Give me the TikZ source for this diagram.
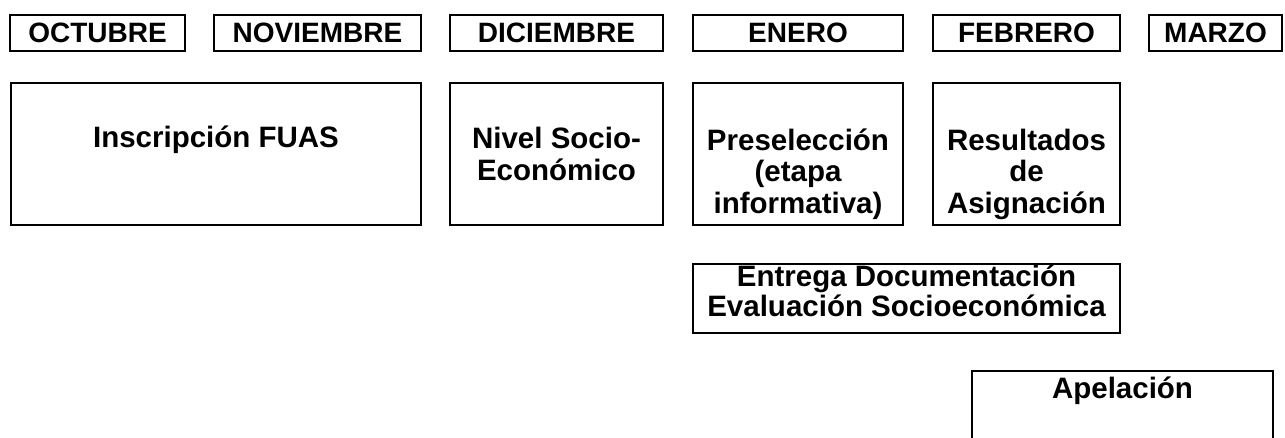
\documentclass[tikz,border=0pt]{standalone}
\usepackage{fontspec}
\setmainfont{Liberation Sans}
\begin{document}
\begin{tikzpicture}[x=0.5pt, y=-0.5pt,
    mes/.style ={draw, line width=1pt, anchor=north west, inner sep=0pt,
                 text height=13.75pt, text depth=4.25pt,
                 font=\bfseries\fontsize{14}{14}\selectfont},
    etapa/.style ={draw, line width=1pt, anchor=north west, inner sep=0pt, align=center,
                 font=\bfseries\fontsize{14.75}{13.75}\selectfont},
    ancha/.style ={font=\bfseries\fontsize{14.75}{16}\selectfont}]
   \useasboundingbox (0,0) rectangle (1285,438);
   % meses
   \node[mes, minimum width=87.5pt]  (oct) at (9,14.5)    {OCTUBRE};
   \node[mes, minimum width=103.5pt] (nov) at (213,14.5)  {NOVIEMBRE};
   \node[mes, minimum width=106.5pt] (dic) at (449,14.5)  {DICIEMBRE};
   \node[mes, minimum width=105pt]   (ene) at (692,14.5)  {ENERO};
   \node[mes, minimum width=93.5pt]  (feb) at (932,14.5)  {FEBRERO};
   \node[mes, minimum width=66.5pt]  (mar) at (1148,14.5) {MARZO};

   % etapas
   \node[etapa, minimum width=205pt, text height=32.5pt, text depth=38.5pt]
        (ins) at (10,82) {Inscripción FUAS};
   \node[etapa, ancha, minimum width=106.5pt, text height=49pt, text depth=22pt]
        (niv) at (449,82) {Nivel Socio-\\Económico};
   \node[etapa, ancha, minimum width=105pt, text height=65.5pt, text depth=5.5pt]
        (pre) at (692,82) {Preselección\\(etapa\\informativa)};
   \node[etapa, ancha, minimum width=93.5pt, text height=65.5pt, text depth=5.5pt]
        (res) at (932,82) {Resultados\\de\\Asignación};
   \node[etapa, minimum width=213.5pt, text height=26pt, text depth=8.5pt]
        (ent) at (692,263) {Entrega Documentación\\Evaluación Socioeconómica};
   \node[etapa, minimum width=150.5pt, text height=13.5pt, text depth=36.5pt]
        (ape) at (971,370) {Apelación};
\end{tikzpicture}
\end{document}
